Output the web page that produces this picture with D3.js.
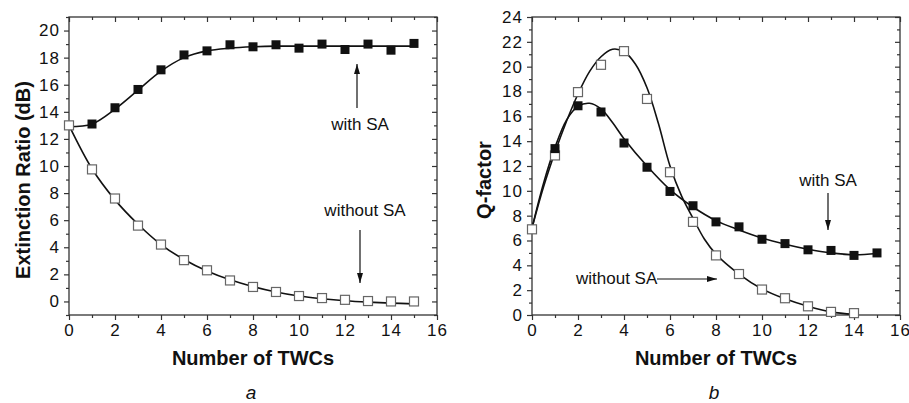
<!DOCTYPE html>
<html>
<head>
<meta charset="utf-8">
<script src="https://cdn.jsdelivr.net/npm/d3@7"></script>
<style>
    body { margin: 0; background: #fff; }
    text { font-family: "Liberation Sans", Arial, sans-serif; fill: #111; }
</style>
</head>
<body>
<svg id="fig" width="909" height="403"></svg>
<script>
// number of TWCs for the measured points
const twc = [0, 1, 2, 3, 4, 5, 6, 7, 8, 9, 10, 11, 12, 13, 14, 15];

// panel a: extinction ratio (dB)
const erWithSA_x = [1, 2, 3, 4, 5, 6, 7, 8, 9, 10, 11, 12, 13, 14, 15];
const erWithSA = [13.1, 14.3, 15.65, 17.1, 18.2, 18.5, 18.95, 18.8, 18.95, 18.7, 19.0, 18.6, 19.0, 18.55, 19.05];
const erWithoutSA = [13.0, 9.75, 7.6, 5.6, 4.2, 3.05, 2.3, 1.55, 1.07, 0.7, 0.4, 0.25, 0.12, 0.03, 0.0, 0.0];

// fitted curves of panel a, read at each TWC
const erFitWithSA = [12.9, 13.1, 14.2, 15.6, 17.0, 18.0, 18.5, 18.7, 18.8, 18.85, 18.85, 18.85, 18.85, 18.85, 18.85, 18.85];
const erFitWithoutSA = [13.0, 9.8, 7.5, 5.7, 4.2, 3.1, 2.25, 1.6, 1.1, 0.7, 0.4, 0.2, 0.05, -0.05, -0.12, -0.18];

// panel b: Q-factor
const qWithSA_x = [1, 2, 3, 4, 5, 6, 7, 8, 9, 10, 11, 12, 13, 14, 15];
const qWithSA = [13.4, 16.85, 16.35, 13.85, 11.9, 9.95, 8.8, 7.5, 7.1, 6.1, 5.75, 5.25, 5.2, 4.8, 5.0];
const qWithoutSA_x = [0, 1, 2, 3, 4, 5, 6, 7, 8, 9, 10, 11, 12, 13, 14];
const qWithoutSA = [6.9, 12.85, 17.95, 20.15, 21.25, 17.4, 11.5, 7.5, 4.8, 3.3, 2.05, 1.35, 0.7, 0.25, 0.15];

// fitted curves of panel b
const qFitWithSA_x = [0, 0.5, 1, 1.5, 2, 2.5, 3, 3.5, 4, 5, 6, 7, 8, 9, 10, 11, 12, 13, 14, 15];
const qFitWithSA = [7.0, 10.6, 13.5, 15.7, 16.8, 17.05, 16.6, 15.5, 14.2, 12.0, 10.1, 8.7, 7.6, 6.85, 6.2, 5.7, 5.3, 5.0, 4.85, 4.95];
const qFitWithoutSA_x = [0, 0.5, 1, 1.5, 2, 2.5, 3, 3.5, 4, 4.5, 5, 5.5, 6, 6.5, 7, 7.5, 8, 9, 10, 11, 12, 13, 14];
const qFitWithoutSA = [7.0, 10.3, 13.1, 15.6, 17.8, 19.6, 20.8, 21.4, 21.2, 20.2, 18.3, 15.4, 12.0, 9.6, 7.8, 6.1, 4.9, 3.3, 2.1, 1.3, 0.7, 0.25, 0.05];

// tick values
const xTicks = [0, 2, 4, 6, 8, 10, 12, 14, 16];
const erTicks = [0, 2, 4, 6, 8, 10, 12, 14, 16, 18, 20];
const qTicks = [0, 2, 4, 6, 8, 10, 12, 14, 16, 18, 20, 22, 24];

const svg = d3.select("#fig");

svg.append("defs").append("marker")
    .attr("id", "head")
    .attr("viewBox", "0 0 10 6")
    .attr("refX", 10)
    .attr("refY", 3)
    .attr("markerWidth", 10)
    .attr("markerHeight", 6)
    .attr("markerUnits", "userSpaceOnUse")
    .attr("orient", "auto")
    .append("path")
    .attr("d", "M0,0 L10,3 L0,6 Z")
    .attr("fill", "#111");

function pairs(xs, ys)
{
    return xs.map(function(x, i) { return [x, ys[i]]; });
}

function draw_panel(p)
{
    const x = d3.scaleLinear().domain([0, 16]).range([p.left, p.right]);
    const y = d3.scaleLinear().domain(p.yDomain).range([315, 17]);
    const g = svg.append("g");

    const minorX = d3.range(1, 16, 2);
    const minorY = d3.range(p.yDomain[0], p.yDomain[1] + 0.01, 1).filter(function(v) { return Math.abs(v % 2) === 1; });

    // bottom and left: ticks outwards
    g.append("g").attr("transform", "translate(0,315)")
        .call(d3.axisBottom(x).tickValues(xTicks).tickSize(5).tickPadding(4))
        .call(function(a) { a.select(".domain").remove(); });
    g.append("g").attr("transform", "translate(0,315)")
        .call(d3.axisBottom(x).tickValues(minorX).tickSize(3).tickFormat(""))
        .call(function(a) { a.select(".domain").remove(); });
    g.append("g").attr("transform", "translate(" + p.left + ",0)")
        .call(d3.axisLeft(y).tickValues(p.yTicks).tickSize(5).tickPadding(4))
        .call(function(a) { a.select(".domain").remove(); });
    g.append("g").attr("transform", "translate(" + p.left + ",0)")
        .call(d3.axisLeft(y).tickValues(minorY).tickSize(3).tickFormat(""))
        .call(function(a) { a.select(".domain").remove(); });

    // top and right: ticks inwards, no labels
    g.append("g").attr("transform", "translate(0,17)")
        .call(d3.axisTop(x).tickValues(xTicks).tickSize(-5).tickFormat(""))
        .call(function(a) { a.select(".domain").remove(); });
    g.append("g").attr("transform", "translate(0,17)")
        .call(d3.axisTop(x).tickValues(minorX).tickSize(-3).tickFormat(""))
        .call(function(a) { a.select(".domain").remove(); });
    g.append("g").attr("transform", "translate(" + p.right + ",0)")
        .call(d3.axisRight(y).tickValues(p.yTicks).tickSize(-5).tickFormat(""))
        .call(function(a) { a.select(".domain").remove(); });
    g.append("g").attr("transform", "translate(" + p.right + ",0)")
        .call(d3.axisRight(y).tickValues(minorY).tickSize(-3).tickFormat(""))
        .call(function(a) { a.select(".domain").remove(); });

    g.selectAll(".tick line").attr("stroke", "#333").attr("stroke-width", 1.2);
    g.selectAll(".tick text")
        .style("font-family", "'Liberation Sans', Arial, sans-serif")
        .style("font-size", "17px")
        .style("letter-spacing", "1px")
        .attr("fill", "#111");

    // frame
    g.append("rect")
        .attr("x", p.left).attr("y", 17)
        .attr("width", p.right - p.left).attr("height", 298)
        .attr("fill", "none").attr("stroke", "#333").attr("stroke-width", 1.3);

    // fitted curves
    const line = d3.line()
        .x(function(d) { return x(d[0]); })
        .y(function(d) { return y(d[1]); })
        .curve(d3.curveCatmullRom.alpha(0.5));

    p.fits.forEach(function(f)
    {
        g.append("path")
            .datum(f)
            .attr("d", line)
            .attr("fill", "none")
            .attr("stroke", "#111")
            .attr("stroke-width", 1.6);
    });

    // open squares (without SA)
    g.selectAll(".open")
        .data(p.open)
        .enter().append("rect")
        .attr("class", "open")
        .attr("x", function(d) { return x(d[0]) - 4.5; })
        .attr("y", function(d) { return y(d[1]) - 4.5; })
        .attr("width", 9).attr("height", 9)
        .attr("fill", "#fff")
        .attr("stroke", "#666")
        .attr("stroke-width", 1.2);

    // filled squares (with SA)
    g.selectAll(".filled")
        .data(p.filled)
        .enter().append("rect")
        .attr("class", "filled")
        .attr("x", function(d) { return x(d[0]) - 4.5; })
        .attr("y", function(d) { return y(d[1]) - 4.5; })
        .attr("width", 9).attr("height", 9)
        .attr("fill", "#111");

    // axis titles
    g.append("text")
        .attr("x", (p.left + p.right) / 2).attr("y", 365)
        .attr("text-anchor", "middle")
        .style("font-size", "20px").style("font-weight", "bold")
        .text("Number of TWCs");
    g.append("text")
        .attr("transform", "translate(" + p.titleX + ",180) rotate(-90)")
        .attr("text-anchor", "middle")
        .style("font-size", "20px").style("font-weight", "bold")
        .text(p.yTitle);

    // panel letter
    g.append("text")
        .attr("x", (p.left + p.right) / 2 - 2).attr("y", 399)
        .attr("text-anchor", "middle")
        .style("font-size", "19px").style("font-style", "italic")
        .text(p.letter);

    // annotations
    p.notes.forEach(function(n)
    {
        g.append("text")
            .attr("x", n.tx).attr("y", n.ty)
            .attr("text-anchor", n.anchor)
            .style("font-size", "17px")
            .text(n.label);
        g.append("line")
            .attr("x1", n.a[0]).attr("y1", n.a[1])
            .attr("x2", n.a[2]).attr("y2", n.a[3])
            .attr("stroke", "#111").attr("stroke-width", 1.2)
            .attr("marker-end", "url(#head)");
    });
}

draw_panel({
    left: 69, right: 437,
    yDomain: [-1, 21], yTicks: erTicks,
    yTitle: "Extinction Ratio (dB)", titleX: 30, letter: "a",
    filled: pairs(erWithSA_x, erWithSA),
    open: pairs(twc, erWithoutSA),
    fits: [pairs(twc, erFitWithSA), pairs(twc, erFitWithoutSA)],
    notes: [
        {label: "with SA", tx: 360, ty: 130, anchor: "middle", a: [357, 108, 357, 64]},
        {label: "without SA", tx: 365, ty: 216, anchor: "middle", a: [360, 230, 360, 283]}
    ]
});

draw_panel({
    left: 532, right: 900,
    yDomain: [0, 24], yTicks: qTicks,
    yTitle: "Q-factor", titleX: 491, letter: "b",
    filled: pairs(qWithSA_x, qWithSA),
    open: pairs(qWithoutSA_x, qWithoutSA),
    fits: [pairs(qFitWithSA_x, qFitWithSA), pairs(qFitWithoutSA_x, qFitWithoutSA)],
    notes: [
        {label: "with SA", tx: 828, ty: 186, anchor: "middle", a: [828, 193, 828, 230]},
        {label: "without SA", tx: 576, ty: 284, anchor: "start", a: [657, 279, 717, 279]}
    ]
});
</script>
</body>
</html>
